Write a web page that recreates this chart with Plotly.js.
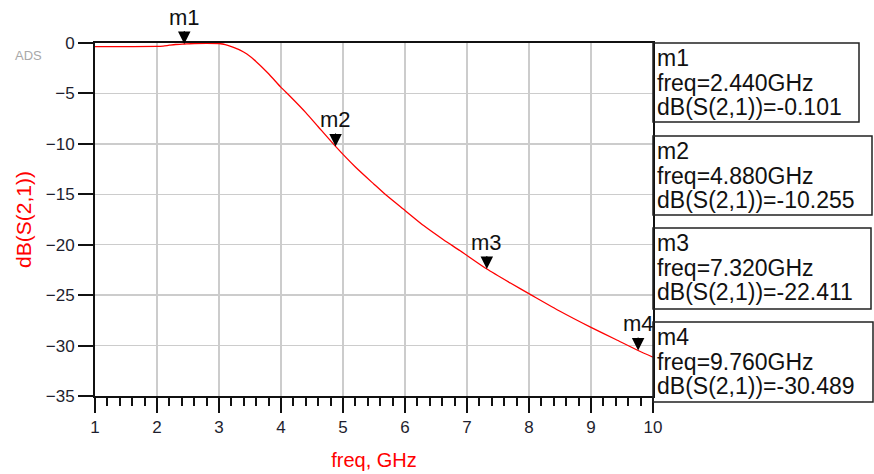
<!DOCTYPE html>
<html>
<head>
<meta charset="utf-8">
<script src="https://cdn.plot.ly/plotly-3.0.1.min.js"></script>
<style>html,body{margin:0;padding:0;background:#fff;}#chart{width:874px;height:474px;}</style>
</head>
<body>
<div id="chart"></div>
<script>
// ---- data ----
var freqGHz = [1.0, 1.5, 2.0, 2.1, 2.2, 2.3, 2.44, 2.6, 2.8, 3.0, 3.1, 3.2, 3.34, 3.45, 3.6, 3.8, 4.0, 4.15, 4.4, 4.6, 4.88, 5.2, 5.5, 5.68, 6.0, 6.3, 6.62, 6.89, 7.32, 7.7, 8.04, 8.5, 9.0, 9.4, 9.76, 10.0];
var dbS21 = [-0.35, -0.35, -0.34, -0.3, -0.22, -0.15, -0.101, -0.05, -0.03, -0.05, -0.15, -0.35, -0.7, -1.1, -1.85, -3.05, -4.4, -5.3, -6.9, -8.3, -10.255, -12.3, -14.0, -15.0, -16.6, -18.1, -19.5, -20.6, -22.411, -23.8, -25.0, -26.6, -28.2, -29.4, -30.489, -31.15];
var markerNames = ['m1', 'm2', 'm3', 'm4'];
var markerFreq = [2.44, 4.88, 7.32, 9.76];
var markerVal = [-0.101, -10.255, -22.411, -30.489];
var xTickVals = [1, 2, 3, 4, 5, 6, 7, 8, 9, 10];
var yTickVals = [0, -5, -10, -15, -20, -25, -30, -35];

// ---- layout helpers ----
var W = 874, H = 474;
var M = {l: 95, r: 221, t: 43, b: 78};
var pw = W - M.l - M.r, ph = H - M.t - M.b;
function px(x) { return (x - M.l) / pw; }
function py(y) { return (H - M.b - y) / ph; }
// readout boxes (pixel frames)
var boxes = [
  {x0: 653, x1: 859, y0: 43, y1: 122},
  {x0: 653, x1: 872, y0: 136, y1: 215},
  {x0: 653, x1: 871, y0: 228, y1: 309},
  {x0: 653, x1: 873, y0: 322, y1: 402}
];
var FONT = 'Liberation Sans, Arial, sans-serif';
var RED = '#ff0000';
var INK = '#1e1e2e';

var shapes = [];
var annotations = [];
boxes.forEach(function (b, i) {
  shapes.push({type: 'rect', xref: 'paper', yref: 'paper',
    x0: px(b.x0), x1: px(b.x1), y0: py(b.y0), y1: py(b.y1),
    line: {color: '#222', width: 1.5}, fillcolor: 'rgba(255,255,255,0)'});
  var lines = [markerNames[i],
    'freq=' + markerFreq[i].toFixed(3) + 'GHz',
    'dB(S(2,1))=' + markerVal[i].toFixed(3)];
  var offs = [15, 39.5, 63.5];
  lines.forEach(function (t, k) {
    annotations.push({xref: 'paper', yref: 'paper', x: px(b.x0 + 2), y: py(b.y0 + offs[k]),
      xanchor: 'left', yanchor: 'middle', showarrow: false, text: t,
      font: {family: FONT, size: 23, color: '#111'}});
  });
});
// marker labels with a solid triangular head pointing at the data point
markerNames.forEach(function (n, i) {
  annotations.push({xref: 'x', yref: 'y', x: markerFreq[i], y: markerVal[i],
    showarrow: true, arrowhead: 2, arrowsize: 2.5, arrowwidth: 1, arrowcolor: '#000',
    ax: 0, ay: -27, standoff: 0, startstandoff: 0,
    text: n, font: {family: FONT, size: 22, color: '#111'}});
});
annotations.push({xref: 'paper', yref: 'paper', x: px(28), y: py(55.5),
  xanchor: 'center', yanchor: 'middle', showarrow: false, text: 'ADS',
  font: {family: FONT, size: 13, color: '#a8a8a8'}});

var trace = {
  x: freqGHz, y: dbS21, type: 'scatter', mode: 'lines',
  line: {color: RED, width: 1.3, shape: 'spline', smoothing: 0.6},
  hoverinfo: 'x+y', showlegend: false, cliponaxis: false
};

var layout = {
  width: W, height: H,
  margin: M,
  paper_bgcolor: '#ffffff', plot_bgcolor: '#ffffff',
  showlegend: false,
  font: {family: FONT, color: INK},
  xaxis: {
    range: [1, 10], tickmode: 'array', tickvals: xTickVals,
    ticks: 'outside', ticklen: 15, tickwidth: 2, tickcolor: '#111',
    showline: true, linecolor: '#111', linewidth: 2, mirror: true,
    showgrid: true, gridcolor: '#cccccc', gridwidth: 1.5, zeroline: false,
    minor: {dtick: 0.2, tick0: 1, ticks: 'outside', ticklen: 8, tickwidth: 2, tickcolor: '#111', showgrid: false},
    tickfont: {family: FONT, size: 17, color: INK},
    title: {text: 'freq, GHz', font: {family: FONT, size: 20, color: RED}, standoff: 17},
    fixedrange: true
  },
  yaxis: {
    range: [-35, 0], tickmode: 'array', tickvals: yTickVals,
    ticks: 'outside', ticklen: 15, tickwidth: 2, tickcolor: '#111',
    showline: true, linecolor: '#111', linewidth: 2, mirror: true,
    showgrid: true, gridcolor: '#cccccc', gridwidth: 1.5, zeroline: false,
    tickfont: {family: FONT, size: 17, color: INK},
    title: {text: 'dB(S(2,1))', font: {family: FONT, size: 21, color: RED}, standoff: 8},
    fixedrange: true
  },
  shapes: shapes,
  annotations: annotations
};

Plotly.newPlot('chart', [trace], layout, {displayModeBar: false, staticPlot: true});
</script>
</body>
</html>
